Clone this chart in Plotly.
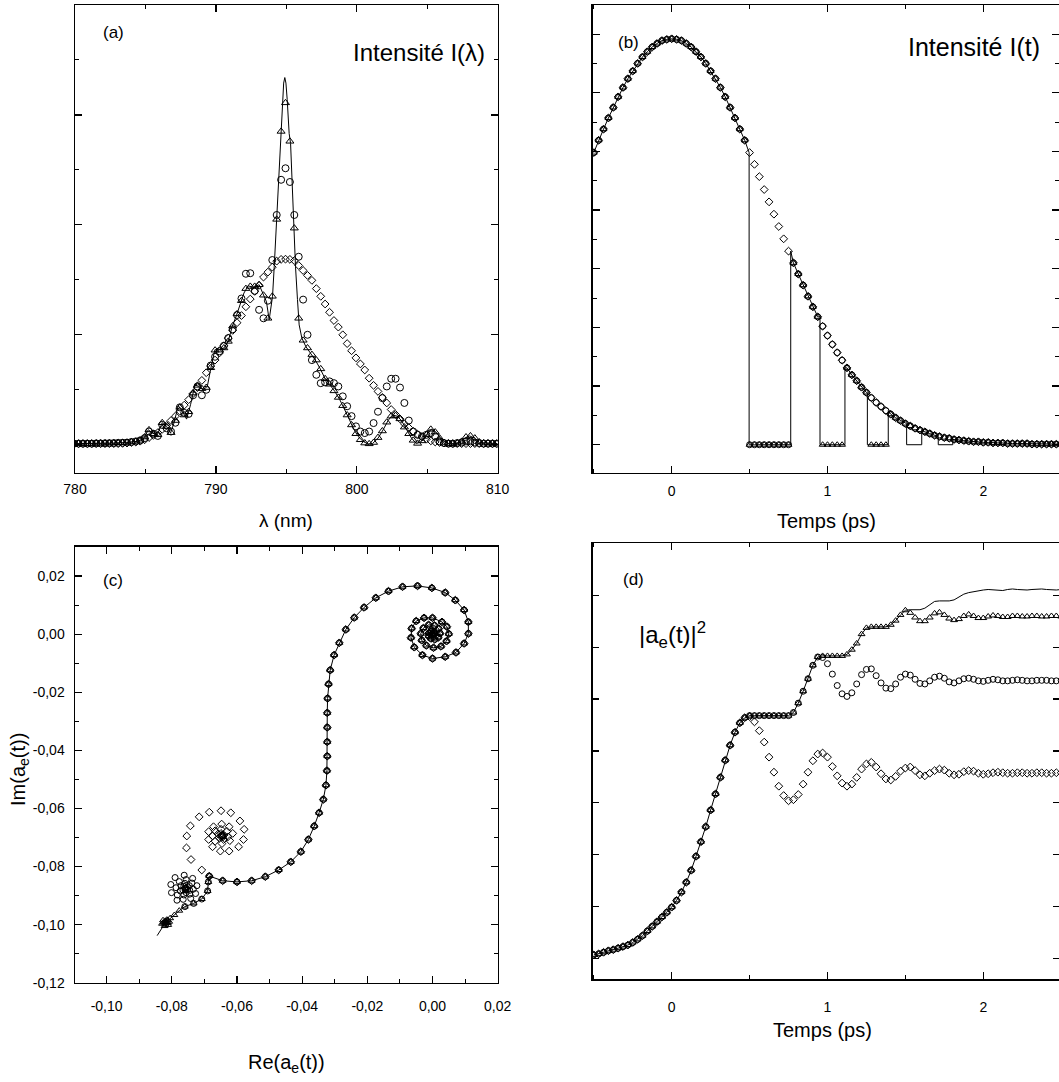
import plotly.graph_objects as go

W, H = 1059, 1082
FONT = "Liberation Sans, Arial, sans-serif"

# ---------------- Panel (a): spectra I(lambda) ----------------
lam_start = 779.94
lam_step = 0.3125
spec_diamond = [0.01, 0.01, 0.01, 0.01, 0.01, 0.01, 0.01, 0.01, 0.01, 0.01, 0.01, 0.012,
                0.015, 0.02, 0.024, 0.032, 0.045, 0.065, 0.085, 0.11, 0.14, 0.175, 0.22, 0.26,
                0.305, 0.36, 0.41, 0.465, 0.52, 0.585, 0.655, 0.715, 0.77, 0.835, 0.90, 0.97,
                1.04, 1.11, 1.175, 1.255, 1.325, 1.395, 1.45, 1.525, 1.57, 1.615, 1.67, 1.686,
                1.688, 1.686, 1.675, 1.63, 1.585, 1.54, 1.495, 1.42, 1.35, 1.28, 1.205, 1.13,
                1.07, 1.00, 0.92, 0.855, 0.79, 0.735, 0.68, 0.605, 0.54, 0.485, 0.43, 0.38,
                0.32, 0.275, 0.235, 0.19, 0.155, 0.12, 0.095, 0.07, 0.05, 0.035, 0.025, 0.02,
                0.015, 0.012, 0.01, 0.01, 0.01, 0.01, 0.01, 0.01, 0.01, 0.01, 0.01, 0.01, 0.01]
spec_triangle = [0.01, 0.01, 0.01, 0.01, 0.01, 0.012, 0.012, 0.013, 0.014, 0.015, 0.017, 0.018, 0.02, 0.025, 0.03, 0.04,
                 0.07, 0.135, 0.10, 0.09, 0.20, 0.165, 0.11, 0.22, 0.34, 0.27, 0.30, 0.47, 0.54, 0.51, 0.52, 0.70,
                 0.86, 0.86, 0.88, 0.94, 1.08, 1.19, 1.31, 1.42, 1.44, 1.44, 1.455, 1.36, 1.15, 1.35, 2.05, 2.85,
                 3.11, 2.76, 1.97, 1.15, 0.95, 0.88, 0.82, 0.77, 0.69, 0.60, 0.55, 0.49, 0.43, 0.355, 0.27, 0.18,
                 0.10, 0.045, 0.015, 0.008, 0.02, 0.065, 0.125, 0.205, 0.26, 0.265, 0.235, 0.16, 0.10, 0.04, 0.012, 0.035,
                 0.09, 0.14, 0.115, 0.06, 0.02, 0.01, 0.008, 0.015, 0.03, 0.07, 0.08, 0.06, 0.025, 0.015, 0.015, 0.012, 0.01]
spec_circle = [0.01, 0.01, 0.01, 0.01, 0.01, 0.012, 0.012, 0.013, 0.014, 0.015, 0.017, 0.018, 0.02, 0.025, 0.03, 0.04,
               0.06, 0.12, 0.10, 0.08, 0.18, 0.15, 0.12, 0.20, 0.34, 0.29, 0.28, 0.45, 0.53, 0.45, 0.50, 0.72,
               0.80, 0.85, 0.90, 0.97, 1.05, 1.18, 1.33, 1.555, 1.56, 1.40, 1.227, 1.15, 1.31, 1.68, 2.09, 2.41,
               2.515, 2.39, 2.09, 1.71, 1.32, 1.00, 0.77, 0.636, 0.56, 0.567, 0.576, 0.56, 0.53, 0.44, 0.35, 0.26,
               0.167, 0.12, 0.106, 0.12, 0.197, 0.30, 0.424, 0.53, 0.60, 0.60, 0.52, 0.38, 0.22, 0.12, 0.09, 0.076,
               0.09, 0.106, 0.076, 0.03, 0.015, 0.01, 0.01, 0.015, 0.02, 0.03, 0.03, 0.02, 0.015, 0.01, 0.01, 0.01, 0.01]
spec_line_lam = [780.00, 780.83, 781.77, 782.72, 783.66, 784.37, 784.85, 785.20, 785.51, 785.84, 786.19, 786.50,
                 786.78, 787.02, 787.33, 787.64, 787.92, 788.20, 788.51, 788.79, 789.10, 789.39, 789.69, 789.93,
                 790.28, 790.57, 790.87, 791.16, 791.47, 791.70, 791.99, 792.29, 792.65, 793.07, 793.36, 793.59,
                 793.78, 794.02, 794.14, 794.30, 794.44, 794.61, 794.73, 794.81, 794.89, 794.97, 795.06, 795.20,
                 795.30, 795.41, 795.53, 795.65, 795.79, 795.91, 796.10, 796.38, 796.71, 797.04, 797.38, 797.73,
                 798.09, 798.44, 798.79, 799.10, 799.43, 799.74, 800.09, 800.45, 800.80, 801.11, 801.51, 801.87,
                 802.22, 802.53, 802.86, 803.17, 803.52, 803.88, 804.23, 804.59, 804.94, 805.30, 805.65, 806.00,
                 806.36, 806.83, 807.30, 807.66, 808.01, 808.37, 808.72, 809.20, 810.00]
spec_line_val = [0.01, 0.01, 0.012, 0.015, 0.02, 0.03, 0.05, 0.136, 0.105, 0.09, 0.20, 0.167,
                 0.105, 0.197, 0.355, 0.30, 0.233, 0.364, 0.545, 0.53, 0.50, 0.53, 0.727, 0.864,
                 0.864, 0.88, 0.94, 1.076, 1.18, 1.27, 1.38, 1.445, 1.433, 1.455, 1.364, 1.30,
                 1.136, 1.35, 1.62, 2.045, 2.44, 2.83, 3.14, 3.29, 3.34, 3.29, 3.14, 2.83,
                 2.74, 2.35, 1.99, 1.62, 1.32, 1.09, 0.97, 0.894, 0.833, 0.773, 0.697, 0.606,
                 0.545, 0.485, 0.41, 0.333, 0.242, 0.152, 0.076, 0.03, 0.006, 0.01, 0.06, 0.136,
                 0.22, 0.27, 0.26, 0.22, 0.136, 0.06, 0.01, 0.03, 0.09, 0.142, 0.112, 0.05,
                 0.015, 0.006, 0.02, 0.06, 0.08, 0.06, 0.02, 0.015, 0.01]

# ---------------- Panel (b): intensity I(t) ----------------
t_start = -0.5
t_step = 0.03125
b_intensity = [4.98, 5.19, 5.38, 5.57, 5.75, 5.93, 6.09, 6.24, 6.37, 6.50, 6.61, 6.70, 6.78, 6.84, 6.89, 6.91, 6.92,
               6.91, 6.89, 6.84, 6.78, 6.70, 6.61, 6.50, 6.37, 6.24, 6.09,
               5.93, 5.75, 5.57, 5.38, 5.19, 4.98, 4.78, 4.57, 4.35, 4.14,
               3.93, 3.72, 3.51, 3.30, 3.10, 2.91, 2.72, 2.53, 2.35, 2.18,
               2.02, 1.86, 1.71, 1.57, 1.44, 1.31, 1.19, 1.09, 0.98, 0.89,
               0.80, 0.72, 0.65, 0.58, 0.52, 0.46, 0.41, 0.36, 0.32, 0.28,
               0.25, 0.22, 0.19, 0.16, 0.14, 0.12, 0.11, 0.09, 0.08, 0.07,
               0.06, 0.05, 0.05, 0.04, 0.04, 0.03, 0.03, 0.03, 0.02, 0.02,
               0.02, 0.02, 0.02, 0.01, 0.01, 0.01, 0.01, 0.01, 0.01, 0.01]
holes_circle = [(0.49, 0.77)]
holes_triangle = [(0.49, 0.77), (0.955, 1.11), (1.255, 1.39)]
holes_line = [(0.497, 0.764), (0.952, 1.112), (1.256, 1.390), (1.508, 1.605), (1.711, 1.804)]

# ---------------- Panel (d): |a_e(t)|^2 ----------------
d_rise = [0.07, 0.09, 0.12, 0.15, 0.17, 0.20, 0.23, 0.26, 0.31, 0.37, 0.44, 0.53, 0.62, 0.71, 0.80, 0.89,
          0.99, 1.12, 1.28, 1.47, 1.70, 1.97, 2.25, 2.54, 2.86, 3.17, 3.49, 3.82, 4.11, 4.36, 4.54, 4.64]
d_line_tail = [4.68, 4.68, 4.68, 4.68, 4.68, 4.68, 4.68, 4.68, 4.68,
               4.74, 4.92, 5.15, 5.39, 5.65, 5.81,
               5.83, 5.83, 5.83, 5.83, 5.83,
               5.86, 5.95, 6.07, 6.25, 6.37,
               6.39, 6.39, 6.39, 6.39,
               6.43, 6.51, 6.62, 6.71,
               6.72, 6.72, 6.72,
               6.75, 6.82, 6.88,
               6.89, 6.89, 6.89,
               6.91, 6.97, 7.02, 7.05, 7.07,
               7.08, 7.10, 7.11, 7.10, 7.09, 7.09, 7.11, 7.12, 7.11, 7.10, 7.10, 7.11, 7.12, 7.12, 7.11, 7.10, 7.10, 7.11]
d_tri_tail = [6.66, 6.57, 6.50, 6.50, 6.57, 6.65, 6.67, 6.62, 6.55, 6.52,
              6.54, 6.60, 6.63, 6.60, 6.56, 6.56, 6.59, 6.61, 6.60, 6.58,
              6.58, 6.60, 6.60, 6.59, 6.59, 6.60, 6.60, 6.59, 6.59, 6.60, 6.60, 6.59]
d_circ_tail = [5.80, 5.68, 5.48, 5.26, 5.10, 5.05, 5.12, 5.29, 5.47, 5.57,
               5.58, 5.45, 5.31, 5.21, 5.20, 5.29, 5.42, 5.48, 5.46, 5.38,
               5.30, 5.29, 5.35, 5.42, 5.44, 5.40, 5.33, 5.31, 5.35, 5.39,
               5.40, 5.38, 5.35, 5.34, 5.36, 5.38, 5.37, 5.35, 5.35, 5.36,
               5.37, 5.36, 5.35, 5.35, 5.36, 5.36, 5.36, 5.35, 5.35, 5.36]
d_diam_tail = [4.66, 4.56, 4.39, 4.17, 3.88, 3.59, 3.32, 3.14, 3.04, 3.06,
               3.16, 3.36, 3.59, 3.81, 3.94, 3.96, 3.88, 3.70, 3.52, 3.38,
               3.32, 3.36, 3.49, 3.65, 3.75, 3.78, 3.69, 3.56, 3.46, 3.44,
               3.51, 3.61, 3.67, 3.69, 3.62, 3.54, 3.52, 3.57, 3.62, 3.65,
               3.63, 3.57, 3.54, 3.55, 3.60, 3.62, 3.61, 3.57, 3.55, 3.56,
               3.58, 3.59, 3.58, 3.57, 3.57, 3.58, 3.58, 3.57, 3.57, 3.58,
               3.58, 3.57, 3.57, 3.58, 3.58]

# ---------------- Panel (c): complex plane trajectory ----------------
c_common_re = [0.0000, 0.0005, 0.0004, -0.0004, -0.0011, -0.0012, -0.0005, 0.0007, 0.0018, 0.0023,
               0.0019, 0.0006, -0.0012, -0.0028, -0.0036, -0.0033, -0.0019, 0.0003, 0.0026, 0.0043,
               0.0050, 0.0044, 0.0029, 0.0000, -0.0026, -0.0050, -0.0064, -0.0066, -0.0056, -0.0031,
               0.0000, 0.0039, 0.0072, 0.0097, 0.0110, 0.0110, 0.0097, 0.0070, 0.0039, -0.0002,
               -0.0046, -0.0092, -0.0135, -0.0174, -0.0210, -0.0240, -0.0266, -0.0286, -0.0302, -0.0314,
               -0.0319, -0.0322, -0.0323, -0.0323, -0.0323, -0.0323, -0.0324, -0.0327, -0.0335, -0.0348,
               -0.0363, -0.0381, -0.0404, -0.0435, -0.0472, -0.0513, -0.0555, -0.0600, -0.0644, -0.0685]
c_common_im = [0.0000, 0.0002, 0.0008, 0.0010, 0.0004, -0.0006, -0.0015, -0.0018, -0.0011, 0.0003,
               0.0019, 0.0030, 0.0032, 0.0021, 0.0002, -0.0021, -0.0039, -0.0047, -0.0042, -0.0024,
               0.0001, 0.0026, 0.0042, 0.0056, 0.0056, 0.0045, 0.0020, -0.0012, -0.0045, -0.0072,
               -0.0084, -0.0078, -0.0063, -0.0032, 0.0002, 0.0042, 0.0083, 0.0117, 0.0143, 0.0159,
               0.0166, 0.0163, 0.0148, 0.0125, 0.0092, 0.0057, 0.0016, -0.0030, -0.0072, -0.0124,
               -0.0172, -0.0221, -0.0271, -0.0321, -0.0371, -0.0420, -0.0470, -0.0520, -0.0569, -0.0615,
               -0.0661, -0.0707, -0.0749, -0.0784, -0.0812, -0.0835, -0.0849, -0.0853, -0.0849, -0.0833]
c_mid_re = [-0.0688, -0.0690, -0.0708, -0.0733, -0.0760]
c_mid_im = [-0.0853, -0.0884, -0.0912, -0.0927, -0.0938]
c_tmid_re = [-0.0777, -0.0792, -0.0805, -0.0813]
c_tmid_im = [-0.0952, -0.0967, -0.0978, -0.0985]
c_diam_re = [-0.0708, -0.0741, -0.0755, -0.0754, -0.0743, -0.0716, -0.0685, -0.0649, -0.0619, -0.0591,
             -0.0578, -0.0580, -0.0595, -0.0624, -0.0651, -0.0675, -0.0687, -0.0687, -0.0672, -0.0647,
             -0.0624, -0.0613, -0.0622, -0.0646, -0.0667, -0.0675, -0.0667, -0.0649, -0.0631, -0.0628,
             -0.0641, -0.0655, -0.0658, -0.0649, -0.0640, -0.0644, -0.0650, -0.0647, -0.0644, -0.0646, -0.0646]
c_diam_im = [-0.0812, -0.0776, -0.0736, -0.0695, -0.0660, -0.0629, -0.0613, -0.0608, -0.0615, -0.0643,
             -0.0672, -0.0707, -0.0732, -0.0747, -0.0747, -0.0732, -0.0707, -0.0680, -0.0663, -0.0654,
             -0.0663, -0.0686, -0.0711, -0.0721, -0.0713, -0.0695, -0.0677, -0.0672, -0.0679, -0.0698,
             -0.0707, -0.0701, -0.0688, -0.0686, -0.0692, -0.0699, -0.0696, -0.0691, -0.0694, -0.0696, -0.0694]
c_circ_re = [-0.0784, -0.0801, -0.0803, -0.0790, -0.0762, -0.0736, -0.0723, -0.0727, -0.0742, -0.0765,
             -0.0783, -0.0787, -0.0777, -0.0756, -0.0738, -0.0734, -0.0745, -0.0763, -0.0774, -0.0772,
             -0.0760, -0.0746, -0.0745, -0.0756, -0.0766, -0.0763, -0.0752, -0.0752, -0.0759, -0.0760,
             -0.0756, -0.0757]
c_circ_im = [-0.0916, -0.0890, -0.0862, -0.0838, -0.0830, -0.0841, -0.0866, -0.0893, -0.0910, -0.0913,
             -0.0898, -0.0873, -0.0852, -0.0845, -0.0857, -0.0878, -0.0895, -0.0898, -0.0884, -0.0866,
             -0.0858, -0.0866, -0.0882, -0.0890, -0.0881, -0.0868, -0.0870, -0.0880, -0.0881, -0.0875,
             -0.0874, -0.0877]
c_tri_re = [-0.0808, -0.0811, -0.0822, -0.0830, -0.0827, -0.0815, -0.0812, -0.0820, -0.0826, -0.0820,
            -0.0816, -0.0820, -0.0822, -0.0819]
c_tri_im = [-0.0990, -0.1001, -0.1005, -0.0997, -0.0985, -0.0983, -0.0994, -0.1000, -0.0993, -0.0987,
            -0.0993, -0.0996, -0.0992, -0.0992]
c_line_end_re = [-0.0818, -0.0824, -0.0830, -0.0836, -0.0841, -0.0845]
c_line_end_im = [-0.0992, -0.1001, -0.1011, -0.1020, -0.1029, -0.1038]

c_xticks = [-0.10, -0.08, -0.06, -0.04, -0.02, 0.00, 0.02]
c_xlabels = ["-0,10", "-0,08", "-0,06", "-0,04", "-0,02", "0,00", "0,02"]
c_yticks = [0.02, 0.00, -0.02, -0.04, -0.06, -0.08, -0.10, -0.12]
c_ylabels = ["0,02", "0,00", "-0,02", "-0,04", "-0,06", "-0,08", "-0,10", "-0,12"]

# ---------------- build ----------------
fig = go.Figure()

SYM = {"tri": "triangle-up-open", "circ": "circle-open", "diam": "diamond-open"}


def mk(sym, size=7):
    return dict(symbol=SYM[sym], size=size, color="black", line=dict(color="black", width=1))


def scat(x, y, xa, ya, mode, sym=None, size=7, lw=1.0):
    kw = dict(x=x, y=y, xaxis=xa, yaxis=ya, mode=mode, showlegend=False, hoverinfo="skip",
              cliponaxis=True)
    if "lines" in mode:
        kw["line"] = dict(color="black", width=lw)
    if sym:
        kw["marker"] = mk(sym, size)
    fig.add_trace(go.Scatter(**kw))


# (a)
lam_grid = [lam_start + i * lam_step for i in range(len(spec_triangle))]
scat(spec_line_lam, spec_line_val, "x", "y", "lines", lw=1.0)
scat(lam_grid, spec_diamond, "x", "y", "markers", "diam", 6)
scat(lam_grid, spec_circle, "x", "y", "markers", "circ", 7)
scat(lam_grid, spec_triangle, "x", "y", "markers", "tri", 7)

# (b)
tb = [t_start + i * t_step for i in range(len(b_intensity))]


def in_holes(t, holes):
    return any(a <= t <= b for a, b in holes)


b_circ = [0.0 if in_holes(t, holes_circle) else v for t, v in zip(tb, b_intensity)]
b_tri = [0.0 if in_holes(t, holes_triangle) else v for t, v in zip(tb, b_intensity)]
lx, ly = [], []
for i, t in enumerate(tb):
    if i > 0:
        for a, b in holes_line:
            near = b_intensity[i] if (t - a) < (a - tb[i - 1]) else b_intensity[i - 1]
            if tb[i - 1] < a <= t:
                lx += [a, a]
                ly += [near, 0.0]
            nearb = b_intensity[i] if (t - b) < (b - tb[i - 1]) else b_intensity[i - 1]
            if tb[i - 1] < b <= t:
                lx += [b, b]
                ly += [0.0, nearb]
    lx.append(t)
    ly.append(0.0 if in_holes(t, holes_line) else b_intensity[i])
scat(lx, ly, "x2", "y2", "lines", lw=1.0)
scat(tb, b_intensity, "x2", "y2", "markers", "diam", 6)
scat(tb, b_circ, "x2", "y2", "markers", "circ", 6)
scat(tb, b_tri, "x2", "y2", "markers", "tri", 6)

# (c)
circ_re = c_common_re + c_mid_re + c_circ_re
circ_im = c_common_im + c_mid_im + c_circ_im
diam_re = c_common_re + c_diam_re
diam_im = c_common_im + c_diam_im
tri_re = c_common_re + c_mid_re + c_tmid_re + c_tri_re
tri_im = c_common_im + c_mid_im + c_tmid_im + c_tri_im
line_re = c_common_re + c_mid_re + c_tmid_re + c_line_end_re
line_im = c_common_im + c_mid_im + c_tmid_im + c_line_end_im
scat(line_re, line_im, "x3", "y3", "lines", lw=1.0)
scat(diam_re, diam_im, "x3", "y3", "markers", "diam", 6)
scat(circ_re, circ_im, "x3", "y3", "markers", "circ", 6)
scat(tri_re, tri_im, "x3", "y3", "markers", "tri", 6)

# (d)
d_line = d_rise + d_line_tail
d_tri = d_rise + d_line_tail[:33] + d_tri_tail
d_circ = d_rise + d_line_tail[:15] + d_circ_tail
d_diam = d_rise + d_diam_tail
td = [t_start + i * t_step for i in range(len(d_line))]
scat(td, d_line, "x4", "y4", "lines", lw=1.0)
scat(td, d_diam, "x4", "y4", "markers", "diam", 6)
scat(td, d_circ, "x4", "y4", "markers", "circ", 6)
scat(td, d_tri, "x4", "y4", "markers", "tri", 6)

TICKFONT = dict(family=FONT, size=14, color="black")


def axis(domain, rng, anchor, **kw):
    d = dict(domain=domain, range=rng, anchor=anchor, showline=True, linecolor="black",
             linewidth=1.5, mirror="allticks", ticks="inside", tickcolor="black", ticklen=7,
             tickwidth=1.2, showgrid=False, zeroline=False, tickfont=TICKFONT, fixedrange=True,
             automargin=False)
    d.update(kw)
    return d


def minor(dt, t0=0, ln=4):
    return dict(ticks="inside", ticklen=ln, tickcolor="black", tickwidth=1.0, dtick=dt, tick0=t0,
                showgrid=False)


xa_dom = [75 / W, 497.7 / W]
xb_dom = [592.7 / W, 1.0]
ytop_dom = [1 - 472.7 / H, 1 - 5 / H]
yc_dom = [1 - 982.7 / H, 1 - 546.7 / H]
yd_dom = [1 - 979.3 / H, 1 - 543.3 / H]

fig.update_layout(
    template="none",
    width=W, height=H, margin=dict(l=0, r=0, t=0, b=0, pad=0), autosize=False,
    paper_bgcolor="white", plot_bgcolor="white", showlegend=False,
    font=dict(family=FONT, color="black"),
    xaxis=axis(xa_dom, [780, 810], "y", tickmode="array", tickvals=[780, 790, 800, 810],
               minor=minor(5, 780), ticklabelstandoff=3),
    yaxis=axis(ytop_dom, [-0.2545, 4.0], "x", tickmode="array", tickvals=[0, 1, 2, 3],
               showticklabels=False, minor=minor(0.5, 0)),
    xaxis2=axis(xb_dom, [-0.507, 2.486], "y2", tickmode="array", tickvals=[0, 1, 2],
                minor=minor(0.5, 0), ticklabelstandoff=5),
    yaxis2=axis(ytop_dom, [-0.477, 7.496], "x2", tickmode="array", tickvals=list(range(8)),
                showticklabels=False, minor=minor(0.5, 0)),
    xaxis3=axis(xa_dom, [-0.1097, 0.02], "y3", tickmode="array", tickvals=c_xticks,
                ticktext=c_xlabels, minor=minor(0.01, 0), ticklabelstandoff=10),
    yaxis3=axis(yc_dom, [-0.12, 0.0301], "x3", tickmode="array", tickvals=c_yticks,
                ticktext=c_ylabels, minor=minor(0.01, 0), ticklabelstandoff=6),
    xaxis4=axis(xb_dom, [-0.507, 2.486], "y4", tickmode="array", tickvals=[0, 1, 2],
                minor=minor(0.5, 0), ticklabelstandoff=14),
    yaxis4=axis(yd_dom, [-0.40, 8.0], "x4", tickmode="array", tickvals=list(range(8)),
                showticklabels=False, ticklen=6),
)


def ann(text, x, y, size, xanchor="center", angle=0):
    fig.add_annotation(text=text, x=x / W, y=1 - y / H, xref="paper", yref="paper",
                       xanchor=xanchor, yanchor="middle", showarrow=False, textangle=angle,
                       font=dict(family=FONT, size=size, color="black"))


ann("(a)", 113, 32, 17)
ann("Intensité I(λ)", 487, 53, 24, xanchor="right")
ann("λ (nm)", 286, 520, 19)
ann("(b)", 628, 42, 17)
ann("Intensité I(t)", 1042, 47, 25, xanchor="right")
ann("Temps (ps)", 827, 521, 20)
ann("(c)", 113, 580, 17)
ann("Re(a<sub>e</sub>(t))", 286, 1063, 20)
ann("Im(a<sub>e</sub>(t))", 19, 770, 20, angle=-90)
ann("(d)", 633, 579, 17)
ann("|a<sub>e</sub>(t)|<sup>2</sup>", 672, 635, 24)
ann("Temps (ps)", 822, 1030, 20)

fig.write_html("out.html", config={"displayModeBar": False, "staticPlot": True},
               post_script="document.body.style.margin='0';document.body.style.overflow='hidden';")
